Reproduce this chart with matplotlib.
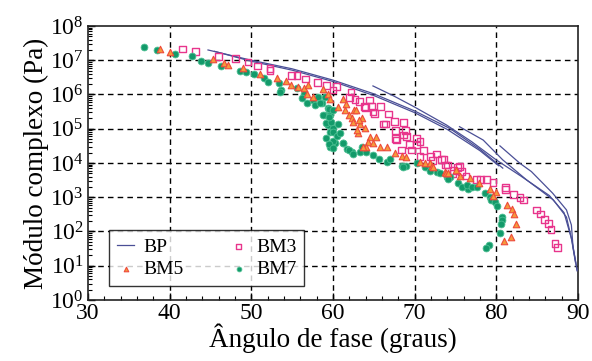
import numpy as np
import matplotlib
matplotlib.use("Agg")
import matplotlib.pyplot as plt
from matplotlib.ticker import LogLocator, MultipleLocator, NullFormatter, FixedLocator

plt.rcParams['font.family'] = ['Liberation Serif', 'DejaVu Serif']
plt.rcParams['mathtext.fontset'] = 'custom'
plt.rcParams['mathtext.rm'] = 'Liberation Serif'
plt.rcParams['mathtext.it'] = 'Liberation Serif:italic'

# ---- data: phase angle (deg) and log10 of complex modulus (Pa) ----
# BP isotherm segments
bp1_x = [44.7, 50.0, 55.0, 60.0, 65.0, 70.0, 74.3, 78.0, 80.8]
bp1_y = [7.30, 7.00, 6.75, 6.42, 6.02, 5.52, 5.01, 4.40, 3.85]
bp2_x = [45.5, 50.0, 55.0, 60.0, 65.0, 70.0, 74.0, 78.0, 80.3]
bp2_y = [7.26, 6.97, 6.71, 6.38, 5.97, 5.47, 4.98, 4.36, 3.92]
bp3_x = [64.9, 67.5, 69.8, 73.9, 77.0, 80.0, 83.0, 86.5, 88.3, 89.2, 89.7]
bp3_y = [6.25, 5.95, 5.66, 5.11, 4.62, 4.09, 3.62, 3.05, 2.55, 1.80, 1.10]
bp4_x = [75.5, 78.4, 80.8, 83.75, 87.0, 88.6, 89.3, 89.9]
bp4_y = [5.06, 4.67, 4.09, 3.50, 2.92, 2.42, 1.70, 0.88]
bp5_x = [80.45, 82.9, 84.3, 86.9, 88.6, 89.2, 89.4, 89.9]
bp5_y = [4.50, 3.99, 3.75, 3.12, 2.63, 2.19, 1.55, 0.85]

bm3_x = [41.6, 43.2, 46.0, 48.1, 49.6, 50.8, 52.3, 52.3, 54.9, 55.6, 56.6, 58.1,
         59.2, 60.0, 60.45, 62.2, 62.0, 62.7, 63.3, 63.9, 64.5, 64.7, 64.0, 64.9,
         65.1, 65.8, 66.8, 66.2, 66.4, 67.5, 68.6, 67.7, 68.9, 69.0, 67.8, 67.7,
         70.2, 69.4, 70.2, 71.1, 69.6, 68.4, 68.6, 70.65, 71.9, 72.7, 73.6, 74.0,
         75.5, 74.8, 75.7, 76.3, 77.6, 78.1, 78.8, 79.6, 73.3, 72.2, 73.8, 75.3,
         74.7, 70.65, 81.1, 81.1, 82.1, 82.9, 83.3, 84.9, 85.4, 85.95, 86.4, 86.7,
         87.2, 87.5]
bm3_y = [7.33, 7.26, 7.12, 7.05, 6.95, 6.83, 6.77, 6.70, 6.55, 6.55, 6.45, 6.35,
         6.27, 6.13, 6.23, 6.07, 5.92, 5.86, 5.79, 5.64, 5.84, 5.66, 5.63, 5.49,
         5.45, 5.64, 5.43, 5.14, 5.14, 5.20, 5.18, 4.95, 4.95, 4.77, 4.67, 4.72,
         4.72, 4.55, 4.53, 4.36, 4.38, 4.38, 4.82, 4.18, 4.18, 4.26, 4.11, 3.94,
         3.89, 3.78, 3.75, 3.62, 3.52, 3.52, 3.52, 3.42, 4.11, 4.07, 3.94, 3.87,
         3.70, 4.62, 3.23, 3.28, 3.07, 3.00, 2.92, 2.63, 2.51, 2.36, 2.24, 2.06,
         1.65, 1.54]

bm5_x = [38.8, 40.1, 45.3, 46.6, 47.1, 49.0, 51.1, 53.1, 54.2, 54.9, 55.75, 56.4,
         57.0, 57.6, 58.8, 59.4, 59.6, 60.6, 61.2, 61.6, 62.0, 62.6, 62.3, 62.4,
         63.5, 63.3, 63.9, 63.1, 63.0, 63.2, 64.5, 65.3, 64.3, 64.9, 65.75, 66.6,
         64.1, 63.7, 67.6, 68.4, 69.0, 70.65, 71.3, 71.9, 72.1, 72.3, 73.7, 73.9,
         74.1, 75.1, 75.5, 76.8, 77.9, 79.2, 79.95, 79.6, 81.3, 81.9, 82.2, 82.4,
         81.8, 81.0, 61.5, 62.8, 56.85]
bm5_y = [7.32, 7.24, 7.03, 6.91, 6.85, 6.76, 6.60, 6.47, 6.38, 6.28, 6.21, 6.18,
         6.28, 5.94, 6.15, 6.01, 5.86, 5.63, 5.86, 5.72, 5.40, 5.55, 5.30, 5.20,
         5.30, 5.14, 5.01, 4.87, 4.96, 5.26, 4.75, 4.77, 4.62, 4.57, 4.48, 4.48,
         4.48, 4.48, 4.28, 4.20, 4.17, 4.04, 3.99, 3.99, 3.91, 3.89, 3.75, 3.72,
         3.70, 3.80, 3.62, 3.55, 3.41, 3.23, 3.16, 3.04, 2.78, 2.65, 2.50, 2.22,
         1.85, 1.73, 5.55, 5.55, 6.00]

bm7_x = [36.9, 38.4, 40.65, 42.8, 43.9, 44.7, 46.3, 48.6, 49.4, 50.3, 51.5, 52.1,
         53.4, 53.7, 55.55, 56.4, 57.6, 58.2, 57.8, 58.6, 59.4, 59.0, 59.6, 59.4,
         59.6, 59.2, 60.2, 59.6, 60.0, 60.65, 56.2, 56.8, 58.4, 59.0, 58.8, 59.5,
         59.1, 59.8, 59.5, 60.0, 59.96, 60.45, 59.5, 60.0, 61.7, 62.3, 63.3, 61.2,
         62.0, 62.4, 63.5, 64.1, 64.9, 65.7, 66.6, 67.0, 60.0, 60.9, 61.25, 68.5,
         68.9, 70.3, 71.8, 72.8, 74.0, 68.6, 71.3, 71.9, 73.1, 74.3, 74.1, 75.3,
         75.75, 76.6, 76.45, 77.0, 77.6, 78.6, 79.2, 79.4, 79.8, 80.1, 80.75,
         80.75, 80.6, 80.45, 79.1, 78.8, 53.5]
bm7_y = [7.38, 7.30, 7.18, 7.11, 6.99, 6.93, 6.83, 6.68, 6.67, 6.60, 6.47, 6.37,
         6.33, 6.13, 6.20, 6.01, 5.84, 5.94, 5.69, 5.74, 5.60, 5.40, 5.40, 5.11,
         4.91, 4.72, 4.57, 4.48, 5.01, 5.14, 5.89, 5.74, 5.74, 5.94, 5.40, 5.57,
         5.16, 5.20, 5.35, 4.91, 4.65, 4.79, 4.55, 4.43, 4.40, 4.33, 4.33, 4.57,
         4.38, 4.26, 4.48, 4.33, 4.23, 4.11, 4.04, 4.11, 5.55, 4.87, 4.57, 3.92,
         3.91, 3.99, 3.84, 3.75, 3.60, 3.89, 3.87, 3.78, 3.72, 3.60, 3.52, 3.42,
         3.31, 3.23, 3.36, 3.31, 3.29, 3.13, 3.02, 2.92, 2.87, 2.74, 2.43,
         2.34, 2.22, 1.95, 1.61, 1.51, 6.08]

x_ticks = [30, 40, 50, 60, 70, 80, 90]
y_exponents = [0, 1, 2, 3, 4, 5, 6, 7, 8]

fig = plt.figure(figsize=(5.92, 3.61), dpi=100)
ax = fig.add_axes([0.1486, 0.169, 0.8276, 0.759])

bp_color = '#4a4f96'
segs = [(bp1_x, bp1_y), (bp2_x, bp2_y), (bp3_x, bp3_y), (bp4_x, bp4_y), (bp5_x, bp5_y)]
for i, (sx, sy) in enumerate(segs):
    ax.plot(sx, 10 ** np.array(sy), color=bp_color, lw=0.9,
            label='BP' if i == 0 else None, zorder=3)

ax.scatter(bm3_x, 10 ** np.array(bm3_y), marker='s', s=24, facecolors='none',
           edgecolors='#e8358c', linewidths=1.0, label='BM3', zorder=4)
ax.scatter(bm5_x, 10 ** np.array(bm5_y), marker='^', s=22, facecolors='#f59a3a',
           edgecolors='#ee4a3c', linewidths=0.8, label='BM5', zorder=5)
ax.scatter(bm7_x, 10 ** np.array(bm7_y), marker='o', s=24, facecolors='#139a6a',
           edgecolors='#4cbf92', linewidths=0.6, label='BM7', zorder=4)

ax.set_yscale('log')
ax.set_xlim(30, 90)
ax.set_ylim(1, 1e8)
ax.set_xticks(x_ticks)
ax.xaxis.set_minor_locator(MultipleLocator(2))
ax.yaxis.set_major_locator(FixedLocator([10.0 ** e for e in y_exponents]))
ax.set_yticklabels([r'$\mathdefault{10^{%d}}$' % e for e in y_exponents])
ax.yaxis.set_minor_locator(LogLocator(base=10, subs=np.arange(2, 10), numticks=20))
ax.yaxis.set_minor_formatter(NullFormatter())

ax.tick_params(axis='both', which='major', direction='in', length=5, width=1,
               labelsize=17, top=False, right=False)
ax.tick_params(axis='both', which='minor', direction='in', length=3, width=0.8,
               top=False, right=False)
ax.tick_params(axis='x', pad=2)
ax.tick_params(axis='y', pad=3)

for e in y_exponents[1:-1]:
    ax.axhline(10.0 ** e, color='black', lw=1.0, ls=(0, (4, 3)), zorder=1)
for xv in x_ticks[1:-1]:
    ax.axvline(xv, color='black', lw=1.0, ls=(0, (4, 3)), zorder=1)

for sp in ax.spines.values():
    sp.set_linewidth(1.2)
    sp.set_color('#222222')

ax.set_xlabel('Ângulo de fase (graus)', fontsize=19.5, labelpad=0)
ax.set_ylabel('Módulo complexo (Pa)', fontsize=19.5, labelpad=1)

handles, labels = ax.get_legend_handles_labels()
order = ['BP', 'BM5', 'BM3', 'BM7']
hl = dict(zip(labels, handles))
leg = ax.legend([hl[k] for k in order], order, ncol=2, loc='lower left',
                bbox_to_anchor=(0.043, 0.051), borderaxespad=0, fontsize=14,
                frameon=True, fancybox=False, edgecolor='black',
                handlelength=0.9, handletextpad=0.45, columnspacing=2.4,
                borderpad=0.4, labelspacing=0.25, markerscale=0.7)
leg.get_frame().set_linewidth(1.0)
leg.set_zorder(10)

fig.savefig('out.png', dpi=100)
